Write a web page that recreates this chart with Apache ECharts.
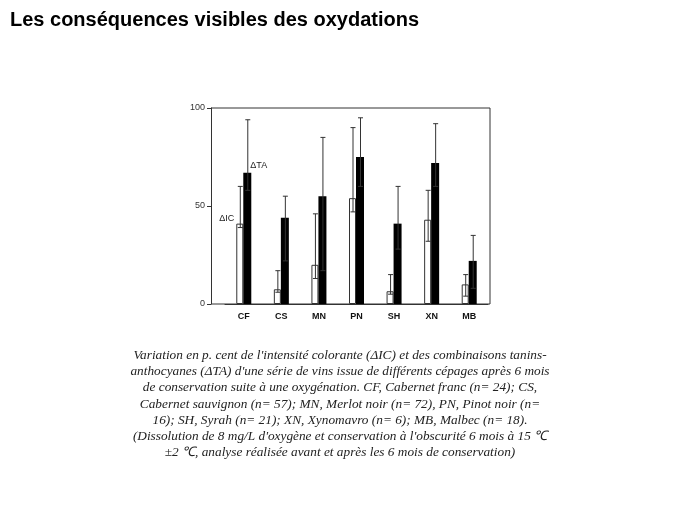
<!DOCTYPE html>
<html><head><meta charset="utf-8">
<script src="https://cdn.jsdelivr.net/npm/echarts@6/dist/echarts.min.js"></script>
<style>html,body{margin:0;padding:0;background:#fff}#c{width:689px;height:517px}</style>
</head><body><div id="c"></div>
<script>
const categories = ['CF','CS','MN','PN','SH','XN','MB'];
const icValues = [41, 7.5, 20, 54, 6.5, 43, 10];
const icLow    = [39, 6, 13, 47, 5, 32, 4];
const icHigh   = [60, 17, 46, 90, 15, 58, 15];
const taValues = [67, 44, 55, 75, 41, 72, 22];
const taLow    = [58, 22, 17, 60, 28, 60, 8];
const taHigh   = [94, 55, 85, 95, 60, 92, 35];
const yTicks = [0, 50, 100];
const caption = "Variation en p. cent de l'intensité colorante (ΔIC) et des combinaisons tanins-\nanthocyanes (ΔTA) d'une série de vins issue de différents cépages après 6 mois\nde conservation suite à une oxygénation. CF, Cabernet franc (n= 24); CS,\nCabernet sauvignon (n= 57); MN, Merlot noir (n= 72), PN, Pinot noir (n=\n16); SH, Syrah (n= 21); XN, Xynomavro (n= 6); MB, Malbec (n= 18).\n(Dissolution de 8 mg/L d'oxygène et conservation à l'obscurité 6 mois à 15 ℃\n±2 ℃, analyse réalisée avant et après les 6 mois de conservation)";

function errSeries(low, high, offset){
  return {
    type:'custom', z:5,
    data: categories.map((c,i)=>[i, low[i], high[i]]),
    renderItem(params, api){
      const x = api.coord([api.value(0), 0])[0] + offset;
      const y1 = api.coord([api.value(0), api.value(1)])[1];
      const y2 = api.coord([api.value(0), api.value(2)])[1];
      const st = {stroke:'#333', lineWidth:1};
      return {type:'group', children:[
        {type:'line', shape:{x1:x,y1:y1,x2:x,y2:y2}, style:st},
        {type:'line', shape:{x1:x-2.5,y1:y1,x2:x+2.5,y2:y1}, style:st},
        {type:'line', shape:{x1:x-2.5,y1:y2,x2:x+2.5,y2:y2}, style:st}
      ]};
    }
  };
}

const chart = echarts.init(document.getElementById('c'));
chart.setOption({
  animation:false,
  grid:{left:225, right:201, top:108, bottom:213},
  xAxis:{type:'category', data:categories, axisLine:{show:true,lineStyle:{color:'#333'}}, axisTick:{show:false},
    axisLabel:{color:'#111', fontWeight:'bold', fontSize:9, fontFamily:'Arial', margin:8}},
  yAxis:{type:'value', min:0, max:100, interval:50, offset:14,
    axisLine:{show:true,lineStyle:{color:'#333'}}, axisTick:{show:true,length:4,lineStyle:{color:'#333'}},
    splitLine:{show:false}, axisLabel:{color:'#333', fontSize:9, fontFamily:'Arial', margin:6}},
  graphic:[
    {type:'text', left:10, top:10, style:{text:'Les conséquences visibles des oxydations', font:'bold 20px Arial', fill:'#000'}},
    {type:'line', shape:{x1:211,y1:108,x2:490,y2:108}, style:{stroke:'#333',lineWidth:1}},
    {type:'line', shape:{x1:490,y1:108,x2:490,y2:304}, style:{stroke:'#333',lineWidth:1}},
    {type:'line', shape:{x1:211,y1:304,x2:490,y2:304}, style:{stroke:'#333',lineWidth:1}},
    {type:'text', x:340, y:347, style:{text:caption, font:'italic 13.3px "Liberation Serif"', fill:'#222', align:'center', lineHeight:16.3}}
  ],
  series:[
    {type:'bar', data:icValues.map((v,i)=>i===0?{value:v,label:{show:true,position:[-17,-10],formatter:'ΔIC',fontSize:9,color:'#222'}}:v),
      barWidth:7, barGap:'0%', itemStyle:{color:'#fff', borderColor:'#333', borderWidth:1}},
    {type:'bar', data:taValues.map((v,i)=>i===0?{value:v,label:{show:true,position:[7,-12],formatter:'ΔTA',fontSize:9,color:'#222'}}:v),
      barWidth:8, itemStyle:{color:'#000'}},
    errSeries(icLow, icHigh, -3.5),
    errSeries(taLow, taHigh, 4)
  ]
});
</script></body></html>
